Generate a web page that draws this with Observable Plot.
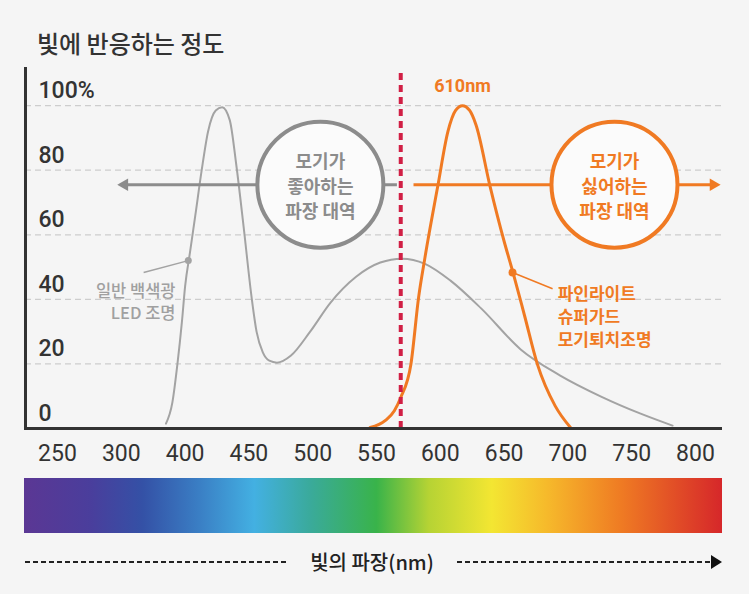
<!DOCTYPE html>
<html>
<head>
<meta charset="utf-8">
<script src="https://cdn.jsdelivr.net/npm/d3@7"></script>
<script src="https://cdn.jsdelivr.net/npm/@observablehq/plot@0.6"></script>
<style>
  body { margin:0; background:#f5f5f5; }
  #wrap { position:relative; width:749px; height:594px; overflow:hidden; background:#f5f5f5; }
  #title { position:absolute; left:37px; top:28px; font-family:"Noto Sans CJK KR"; font-weight:500; font-size:24px; line-height:30px; color:#333; }
  #chart { position:absolute; left:0; top:60px; }
  #spectrum { position:absolute; left:24px; top:478px; width:698px; height:55px; }
  .dash { position:absolute; top:561px; height:2px; background:repeating-linear-gradient(to right,#222 0 5px,transparent 5px 8px); }
  #xlabel { position:absolute; left:292px; width:160px; top:547px; text-align:center; font-family:"Noto Sans CJK KR"; font-weight:500; font-size:20px; line-height:30px; color:#222; }
  #arrowhead { position:absolute; left:711px; top:555px; width:0; height:0; border-left:11px solid #111; border-top:7px solid transparent; border-bottom:7px solid transparent; }
</style>
</head>
<body>
<div id="wrap">
  <div id="title"></div>
  <div id="chart"></div>
  <div id="spectrum"></div>
  <div class="dash" style="left:25px;width:262px"></div>
  <div id="xlabel"></div>
  <div class="dash" style="left:457px;width:254px"></div>
  <div id="arrowhead"></div>
</div>
<script>
const titleText = "빛에 반응하는 정도";
const xAxisTitle = "빛의 파장(nm)";
const xTicks = [250, 300, 400, 450, 500, 550, 600, 650, 700, 750, 800];
const yTicks = [0, 20, 40, 60, 80, 100];
const yTickLabels = ["0", "20", "40", "60", "80", "100%"];
const gridValues = [20, 40, 60, 80, 100];

// general white LED spectrum (gray)
const ledX = [370, 380, 388, 395, 400, 404, 408, 413, 418, 424, 429, 435, 440, 446, 452, 456, 461, 466, 472, 483, 498, 514, 534, 553, 570, 588, 608, 632, 663, 694, 726, 757, 782];
const ledY = [1.5, 8, 20, 33, 44, 55, 66, 80, 92, 98.5, 99.5, 95.5, 82, 62, 41, 30, 23.5, 21, 20.4, 22.6, 30, 39, 47, 51.4, 52.6, 51, 45.8, 37.2, 24.5, 16.4, 9.9, 4.6, 0.9];

// mosquito-repellent light spectrum (orange)
const fineX = [545, 557, 564, 569, 577, 583, 588, 598, 606, 612, 617.4, 623, 628, 639, 650, 657, 666, 676, 690, 702];
const fineY = [0.3, 2.5, 5.5, 9.6, 20, 40.6, 53, 75, 92, 98.5, 100, 98.5, 94, 75, 58, 48.3, 35, 20, 7, 0.3];

const peakLabel = ["610nm"];
const peakLabelPos = [617.4, 106];
const boundaryX = [569];
const boundaryTop = 110;

const arrowLevel = 75.5;
const likeArrowX = [305, 566];
const dislikeArrowX = [579, 814];
const circleX = [506, 736.5];
const circleTexts = ["모기가\n좋아하는\n파장 대역", "모기가\n싫어하는\n파장 대역"];
const circleColors = ["#8c8c8c", "#f07a23"];

const ledMarker = [402.5, 52];
const ledLeaderFrom = [335, 48.3];
const ledLabel = ["일반 백색광\nLED 조명"];
const ledLabelPos = [385, 39.6];

const fineMarker = [656.6, 48.3];
const fineLeaderTo = [688, 43.3];
const fineLabel = ["파인라이트\n슈퍼가드\n모기퇴치조명"];
const fineLabelPos = [692, 35];

const spectrumStops = [
  [0, "#5b3794"], [9.5, "#4a3e9c"], [17, "#3451a6"], [25, "#3a7ec4"], [33, "#43b0e2"],
  [41, "#3aaa9b"], [50.5, "#39b34a"], [58, "#b6d334"], [67, "#f3e632"], [75, "#f6b92b"],
  [85.5, "#ef7b23"], [100, "#d6272a"]
];

document.getElementById("title").textContent = titleText;
document.getElementById("xlabel").textContent = xAxisTitle;
document.getElementById("spectrum").style.background =
  "linear-gradient(to right," + spectrumStops.map(([p, c]) => c + " " + p + "%").join(",") + ")";

const led = ledX.map((x, i) => ({x, y: ledY[i]}));
const fine = fineX.map((x, i) => ({x, y: fineY[i]}));
const KR = "Noto Sans CJK KR";
const orange = "#f07a23", gray = "#8c8c8c";

const chart = Plot.plot({
  width: 749, height: 410,
  marginTop: 8, marginBottom: 42, marginLeft: 25, marginRight: 27,
  style: {background: "transparent", fontFamily: "Roboto, sans-serif", fontSize: "23px", color: "#333", overflow: "visible"},
  x: {type: "linear", domain: xTicks, insetLeft: 32, insetRight: 27, axis: null, label: null},
  y: {domain: [0, 111.5], axis: null, label: null},
  marks: [
    Plot.ruleY(gridValues, {stroke: "#cdcdcd", strokeWidth: 1.2, strokeDasharray: "6,4"}),
    Plot.text(yTicks, {y: d => d, text: (d, i) => yTickLabels[i], frameAnchor: "left", textAnchor: "start", dx: 13, dy: -15, fontSize: 23, fontWeight: 500, fill: "#333"}),
    Plot.line(led, {x: "x", y: "y", stroke: "#a3a3a3", strokeWidth: 2, curve: "monotone-x"}),
    Plot.line(fine, {x: "x", y: "y", stroke: orange, strokeWidth: 3, curve: "monotone-x"}),
    Plot.ruleX(boundaryX, {y1: 0, y2: boundaryTop, stroke: "#d11f45", strokeWidth: 4, strokeDasharray: "7,5"}),
    Plot.link([0], {x1: likeArrowX[0], x2: likeArrowX[1], y1: arrowLevel, y2: arrowLevel, stroke: gray, strokeWidth: 3}),
    Plot.link([0], {x1: dislikeArrowX[0], x2: dislikeArrowX[1], y1: arrowLevel, y2: arrowLevel, stroke: orange, strokeWidth: 3}),
    Plot.dot([0], {x: likeArrowX[0], y: arrowLevel, symbol: "triangle2", r: 6, rotate: -90, fill: gray}),
    Plot.dot([0], {x: dislikeArrowX[1], y: arrowLevel, symbol: "triangle2", r: 6, rotate: 90, fill: orange}),
    Plot.dot(circleX, {x: d => d, y: arrowLevel, r: 63, fill: "#fbfbfb", stroke: (d, i) => circleColors[i], strokeWidth: 4}),
    Plot.text(circleX, {x: d => d, y: arrowLevel, text: (d, i) => circleTexts[i], fill: (d, i) => circleColors[i], fontFamily: KR, fontWeight: "bold", fontSize: 18, lineHeight: 1.38, lineAnchor: "middle"}),
    Plot.link([0], {x1: ledLeaderFrom[0], y1: ledLeaderFrom[1], x2: ledMarker[0], y2: ledMarker[1], stroke: "#a3a3a3", strokeWidth: 1.5}),
    Plot.dot([0], {x: ledMarker[0], y: ledMarker[1], r: 3.5, fill: "#a3a3a3"}),
    Plot.text(ledLabel, {x: ledLabelPos[0], y: ledLabelPos[1], text: d => d, textAnchor: "end", fill: "#a0a0a0", fontFamily: KR, fontWeight: 500, fontSize: 16.5, lineHeight: 1.32, lineAnchor: "middle"}),
    Plot.link([0], {x1: fineMarker[0], y1: fineMarker[1], x2: fineLeaderTo[0], y2: fineLeaderTo[1], stroke: orange, strokeWidth: 1.5}),
    Plot.dot([0], {x: fineMarker[0], y: fineMarker[1], r: 4, fill: orange}),
    Plot.text(fineLabel, {x: fineLabelPos[0], y: fineLabelPos[1], text: d => d, textAnchor: "start", fill: orange, fontFamily: KR, fontWeight: "bold", fontSize: 17, lineHeight: 1.35, lineAnchor: "middle"}),
    Plot.text(peakLabel, {x: peakLabelPos[0], y: peakLabelPos[1], text: d => d, fill: orange, fontWeight: "bold", fontSize: 18}),
    Plot.ruleY([0], {stroke: "#333", strokeWidth: 3}),
    Plot.frame({anchor: "left", stroke: "#333", strokeWidth: 3}),
    Plot.axisX(xTicks, {tickSize: 0, tickPadding: 16, tickFormat: d => String(d), fontSize: 23, fill: "#333", label: null})
  ]
});
document.getElementById("chart").appendChild(chart);
</script>
</body>
</html>
